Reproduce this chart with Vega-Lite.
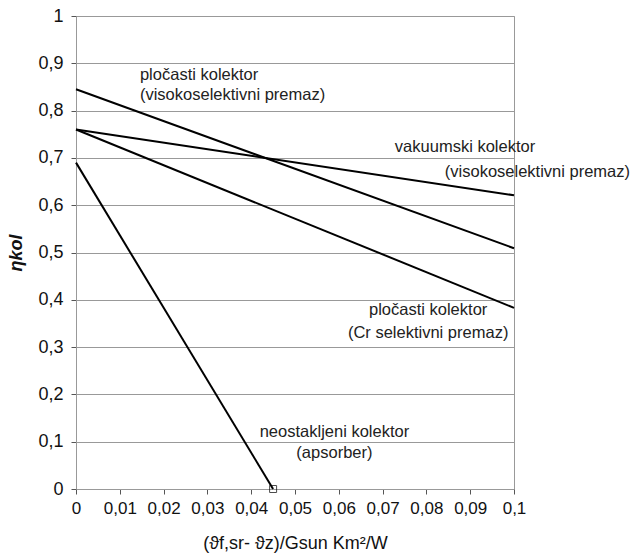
{
  "$schema": "https://vega.github.io/schema/vega-lite/v6.json",
  "autosize": {"type": "none"},
  "padding": {"left": 76, "top": 16, "right": 117, "bottom": 70},
  "width": 438,
  "height": 473,
  "background": "white",
  "config": {
    "font": "Liberation Sans",
    "view": {"stroke": "#999999", "strokeWidth": 1}
  },
  "datasets": {
    "lines": [
      {"series": "plocasti_visoko", "x": 0, "y": 0.845},
      {"series": "plocasti_visoko", "x": 0.1, "y": 0.509},
      {"series": "vakuumski", "x": 0, "y": 0.76},
      {"series": "vakuumski", "x": 0.1, "y": 0.621},
      {"series": "plocasti_cr", "x": 0, "y": 0.76},
      {"series": "plocasti_cr", "x": 0.1, "y": 0.383},
      {"series": "neostakljeni", "x": 0, "y": 0.69},
      {"series": "neostakljeni", "x": 0.045, "y": 0}
    ],
    "marker": [{"x": 0.045, "y": 0}],
    "labelsLeft": [
      {"x": 0.0146, "y": 0.875, "text": "pločasti kolektor"},
      {"x": 0.0146, "y": 0.833, "text": "(visokoselektivni premaz)"},
      {"x": 0.0728, "y": 0.722, "text": "vakuumski kolektor"},
      {"x": 0.0842, "y": 0.670, "text": "(visokoselektivni premaz)"}
    ],
    "labelsCenter": [
      {"x": 0.0804, "y": 0.378, "text": "pločasti kolektor"},
      {"x": 0.0804, "y": 0.330, "text": "(Cr selektivni premaz)"},
      {"x": 0.0590, "y": 0.120, "text": "neostakljeni kolektor"},
      {"x": 0.0590, "y": 0.076, "text": "(apsorber)"}
    ]
  },
  "layer": [
    {
      "data": {"name": "lines"},
      "mark": {"type": "line", "color": "black", "strokeWidth": 2},
      "encoding": {
        "x": {
          "field": "x", "type": "quantitative",
          "scale": {"domain": [0, 0.1], "nice": false, "zero": false},
          "axis": {
            "values": [0, 0.01, 0.02, 0.03, 0.04, 0.05, 0.06, 0.07, 0.08, 0.09, 0.1],
            "labelExpr": "replace(format(datum.value, '~g'), '.', ',')",
            "labelFlush": false,
            "labelOverlap": false,
            "grid": false,
            "domainColor": "#999999",
            "tickColor": "#555555",
            "tickSize": 5,
            "labelPadding": 6,
            "labelFontSize": 17,
            "labelColor": "#111111",
            "title": "(ϑf,sr- ϑz)/Gsun   Km²/W",
            "titleFontSize": 18,
            "titleFontWeight": "normal",
            "titleColor": "#111111",
            "titlePadding": 18
          }
        },
        "y": {
          "field": "y", "type": "quantitative",
          "scale": {"domain": [0, 1], "nice": false},
          "axis": {
            "values": [0, 0.1, 0.2, 0.3, 0.4, 0.5, 0.6, 0.7, 0.8, 0.9, 1],
            "labelExpr": "replace(format(datum.value, '~g'), '.', ',')",
            "labelFlush": false,
            "labelOverlap": false,
            "grid": true,
            "gridColor": "#999999",
            "gridOpacity": 1,
            "domainColor": "#999999",
            "tickColor": "#555555",
            "tickSize": 5,
            "labelPadding": 8,
            "labelFontSize": 18,
            "labelColor": "#111111",
            "title": "ηkol",
            "titleFontSize": 18,
            "titleFontStyle": "italic",
            "titleFontWeight": "bold",
            "titleColor": "#111111",
            "titlePadding": 12
          }
        },
        "detail": {"field": "series", "type": "nominal"}
      }
    },
    {
      "data": {"name": "marker"},
      "mark": {"type": "point", "shape": "square", "filled": false, "color": "black", "size": 49, "strokeWidth": 1},
      "encoding": {
        "x": {"field": "x", "type": "quantitative"},
        "y": {"field": "y", "type": "quantitative"}
      }
    },
    {
      "data": {"name": "labelsLeft"},
      "mark": {"type": "text", "fontSize": 16.5, "color": "#222222", "align": "left", "baseline": "middle"},
      "encoding": {
        "x": {"field": "x", "type": "quantitative"},
        "y": {"field": "y", "type": "quantitative"},
        "text": {"field": "text"}
      }
    },
    {
      "data": {"name": "labelsCenter"},
      "mark": {"type": "text", "fontSize": 16.5, "color": "#222222", "align": "center", "baseline": "middle"},
      "encoding": {
        "x": {"field": "x", "type": "quantitative"},
        "y": {"field": "y", "type": "quantitative"},
        "text": {"field": "text"}
      }
    }
  ]
}
